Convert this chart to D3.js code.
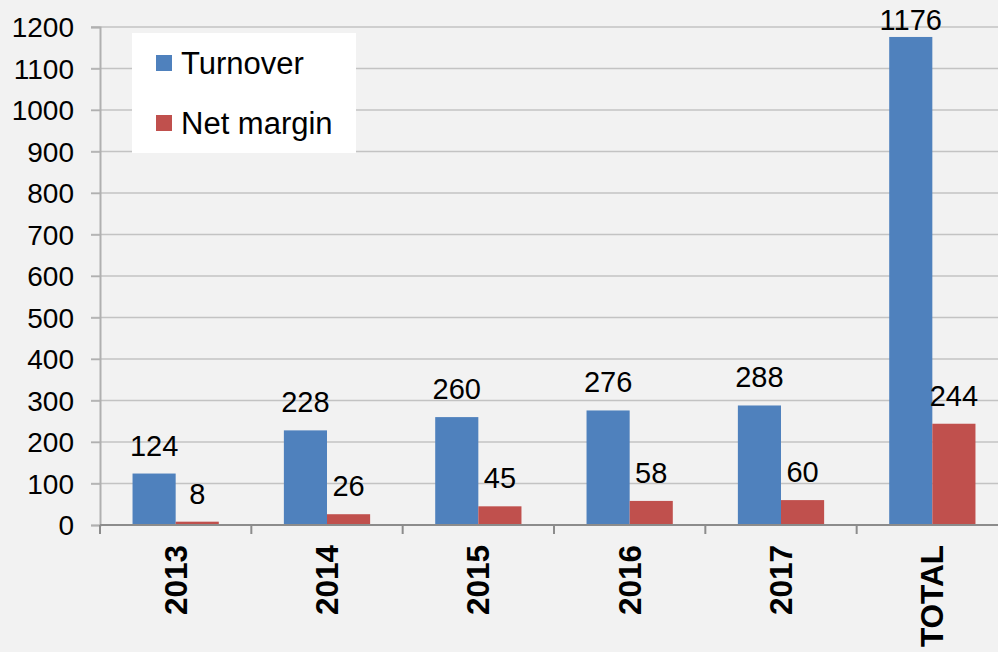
<!DOCTYPE html>
<html><head><meta charset="utf-8">
<script src="https://cdn.jsdelivr.net/npm/d3@7"></script>
<style>html,body{margin:0;padding:0;background:#f2f2f2;overflow:hidden}</style>
</head><body><svg id="chart" width="998" height="652"></svg>
<script>
const categories = ["2013","2014","2015","2016","2017","TOTAL"];
const turnover = [124,228,260,276,288,1176];
const netMargin = [8,26,45,58,60,244];
const seriesNames = ["Turnover","Net margin"];
const seriesColors = ["#4f81bd","#c0504d"];
const yTicks = [0,100,200,300,400,500,600,700,800,900,1000,1100,1200];

const svg = d3.select("#chart");
const W = 998, H = 652;
svg.append("rect").attr("width",W).attr("height",H).attr("fill","#f2f2f2");
const font = "'Liberation Sans', Arial, sans-serif";
const mLeft = 100, mRight = 1008, mTop = 27, mBottom = 525;

const x0 = d3.scaleBand().domain(categories).range([mLeft,mRight]).padding(0);
const groupW = x0.bandwidth()*0.57;
const x1 = d3.scaleBand().domain(seriesNames).range([0,groupW]).padding(0);
const y = d3.scaleLinear().domain([0,1200]).range([mBottom,mTop]);

// gridlines
svg.append("g").selectAll("line").data(yTicks.filter(d=>d>0)).join("line")
  .attr("x1",mLeft-9).attr("x2",W).attr("y1",d=>y(d)).attr("y2",d=>y(d))
  .attr("stroke","#c3c3c3").attr("stroke-width",1.5);

// y axis
const yAxis = svg.append("g").attr("transform",`translate(${mLeft},0)`)
  .call(d3.axisLeft(y).tickValues(yTicks).tickSize(9).tickPadding(17).tickFormat(d3.format("d")));
yAxis.select(".domain").attr("stroke","#b0b0b0").attr("stroke-width",2);
yAxis.selectAll(".tick line").attr("stroke","#b0b0b0").attr("stroke-width",1.5);
yAxis.selectAll("text").attr("font-family",font).attr("font-size",28).attr("fill","#000").attr("dy","0.35em");

// bars
const data = categories.map((c,i)=>({cat:c, vals:[turnover[i],netMargin[i]]}));
const groups = svg.append("g").selectAll("g").data(data).join("g")
  .attr("transform",d=>`translate(${x0(d.cat)+(x0.bandwidth()-groupW)/2},0)`);
groups.selectAll("rect").data(d=>d.vals.map((v,j)=>({v,s:seriesNames[j],j}))).join("rect")
  .attr("x",d=>x1(d.s)).attr("width",x1.bandwidth())
  .attr("y",d=>y(d.v)).attr("height",d=>y(0)-y(d.v))
  .attr("fill",d=>seriesColors[d.j]);
groups.selectAll("text").data(d=>d.vals.map((v,j)=>({v,s:seriesNames[j],j}))).join("text")
  .attr("x",d=>x1(d.s)+x1.bandwidth()/2)
  .attr("y",d=>Math.max(y(d.v)-18, 30))
  .attr("text-anchor","middle").attr("font-family",font).attr("font-size",29).attr("fill","#000")
  .text(d=>d.v);

// x axis
const xAxisG = svg.append("g");
xAxisG.append("line").attr("x1",mLeft).attr("x2",W).attr("y1",mBottom).attr("y2",mBottom)
  .attr("stroke","#8c8c8c").attr("stroke-width",2);
const boundaries = categories.map(c=>x0(c));
xAxisG.selectAll("line.tk").data(boundaries).join("line").attr("class","tk")
  .attr("x1",d=>d).attr("x2",d=>d).attr("y1",mBottom).attr("y2",mBottom+9)
  .attr("stroke","#8c8c8c").attr("stroke-width",2);
xAxisG.selectAll("text").data(categories).join("text")
  .attr("transform",d=>`translate(${x0(d)+x0.bandwidth()/2+11},${mBottom+20}) rotate(-90)`)
  .attr("text-anchor","end").attr("font-family",font).attr("font-size",31.5).attr("font-weight","bold")
  .attr("fill","#000").text(d=>d);

// legend
const lg = svg.append("g");
lg.append("rect").attr("x",132).attr("y",33).attr("width",224).attr("height",120).attr("fill","#ffffff");
const items = lg.selectAll("g").data(seriesNames).join("g")
  .attr("transform",(d,i)=>`translate(156,${55+i*60})`);
items.append("rect").attr("width",16).attr("height",16).attr("fill",(d,i)=>seriesColors[i]);
items.append("text").attr("x",25).attr("y",19).attr("font-family",font).attr("font-size",31)
  .attr("fill","#000").text(d=>d);
</script></body></html>
